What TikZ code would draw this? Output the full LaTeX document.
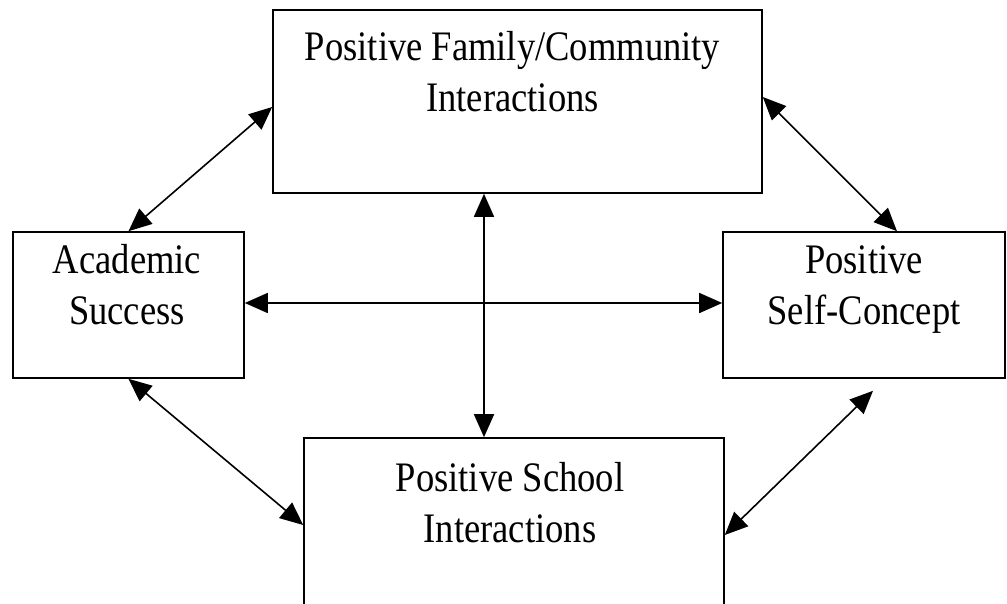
\documentclass[tikz,border=0pt]{standalone}
\usepackage{fontspec}
\newfontfamily\boxfont{Liberation Serif}[FakeStretch=0.87]
\usetikzlibrary{positioning}
\usetikzlibrary{arrows.meta}
\tikzset{
    box/.style={
        draw,
        line width=1.6pt,
        inner sep=0pt},
    lbl/.style={
        align=center,
        inner sep=0pt,
        font=\boxfont\fontsize{42}{51}\selectfont},
    every edge/.style={
        draw,
        <->,>={Triangle[length=23pt,width=20pt]},
        line width=1.6pt}}

\begin{document}
\begin{tikzpicture}[x=1pt,y=-1pt]
        \useasboundingbox (0,0) rectangle (1007,603);
        \node[box,minimum width=489pt,minimum height=183pt] (family) at (517.5,101.5) {};
        \node[box,minimum width=231pt,minimum height=146pt] (acad) at (128.5,305) {};
        \node[box,minimum width=282pt,minimum height=146pt] (self) at (864,305) {};
        \node[box,minimum width=420pt,minimum height=200pt] (school) at (514,538) {};

        \node[lbl,anchor=base] (familytxt) at (512.5,111) {Positive Family/Community\\Interactions};
        \node[lbl,anchor=base] (acadtxt) at (127,324) {Academic\\Success};
        \node[lbl,anchor=base] (selftxt) at (864,324) {Positive\\Self-Concept};
        \node[lbl,anchor=base] (schooltxt) at (510,542) {Positive School\\Interactions};

        \draw (acad.north) edge ([yshift=-5.5pt]family.west);
        \draw ([yshift=4.5pt]family.east) edge ([xshift=33pt]self.north);
        \draw ([yshift=2pt]acad.east) edge ([yshift=2pt]self.west);
        \draw ([xshift=-33.5pt]family.south) edge ([xshift=-30pt]school.north);
        \draw (acad.south) edge ([yshift=13pt]school.west);
        \draw ([yshift=3pt]school.east) edge ([shift={(9pt,-12pt)}]self.south);
        %\draw (acad) edge (school);
\end{tikzpicture}
\end{document}
